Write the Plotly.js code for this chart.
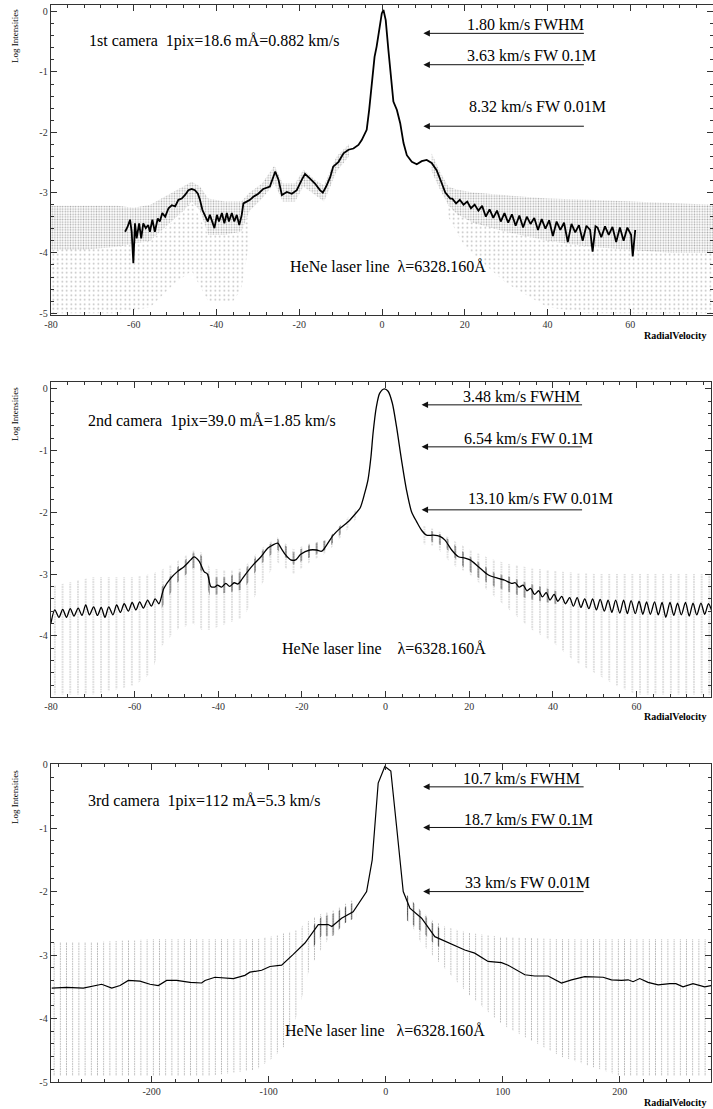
<!DOCTYPE html>
<html><head><meta charset="utf-8">
<script src="https://cdn.plot.ly/plotly-3.0.1.min.js"></script>
<style>html,body{margin:0;padding:0;background:#fff}#g{width:713px;height:1109px}</style>
</head><body><div id="g"></div>
<script>
// ---------- Panel 1 (1st camera) ----------
const p1LineX = [-62.1,-61.5,-60.9,-60.5,-60.1,-59.7,-59.3,-58.7,-58.2,-57.7,-57.1,-56.5,-56.1,-55.5,-54.9,-54.2,-53.7,-53.1,-52.4,-51.6,-50.8,-50.0,-49.2,-48.4,-47.6,-46.8,-46.0,-45.2,-44.5,-44.0,-43.4,-42.8,-42.1,-41.6,-41.0,-40.5,-39.9,-39.4,-38.7,-38.1,-37.5,-37.0,-36.3,-35.7,-35.1,-34.5,-33.9,-33.5,-32.7,-31.9,-31.1,-29.9,-28.7,-27.1,-25.8,-25.0,-24.2,-23.0,-21.8,-20.6,-19.4,-18.6,-17.4,-16.2,-15.0,-14.3,-13.5,-12.5,-11.8,-10.5,-9.3,-8.1,-6.9,-5.7,-4.9,-3.7,-3.1,-2.5,-1.8,-1.3,-0.7,-0.05,0.35,0.9,1.55,2.2,2.75,3.6,4.4,5.2,6.0,7.2,8.4,9.6,10.8,12.0,13.2,14.3,15.3,16.5,
17.0,17.9,18.8,19.7,20.6,21.5,22.4,23.3,24.2,25.1,26.0,26.9,27.8,28.7,29.6,30.5,31.4,32.3,33.2,34.1,35.0,35.9,36.8,37.7,38.6,39.5,40.4,41.3,42.2,43.1,44.0,44.9,45.8,46.7,47.6,48.5,49.4,50.3,50.9,51.6,52.1,53.0,53.9,54.8,55.7,56.6,57.5,58.4,59.3,60.2,60.6,61.2];
const p1LineY = [-3.65,-3.57,-3.45,-3.65,-4.17,-3.51,-3.76,-3.51,-3.76,-3.51,-3.59,-3.54,-3.65,-3.45,-3.65,-3.43,-3.48,-3.34,-3.40,-3.26,-3.21,-3.23,-3.12,-3.10,-3.04,-2.96,-2.94,-2.96,-3.02,-3.12,-3.29,-3.37,-3.48,-3.37,-3.51,-3.59,-3.37,-3.48,-3.34,-3.51,-3.34,-3.48,-3.34,-3.48,-3.37,-3.54,-3.37,-3.18,-3.15,-3.12,-3.07,-3.02,-2.94,-2.90,-2.65,-2.79,-3.04,-2.99,-3.02,-2.96,-2.79,-2.69,-2.77,-2.85,-2.96,-3.00,-2.90,-2.74,-2.57,-2.49,-2.35,-2.29,-2.27,-2.21,-2.13,-1.96,-1.63,-1.19,-0.75,-0.58,-0.30,-0.03,0.03,-0.14,-0.64,-1.13,-1.49,-1.63,-1.85,-2.18,-2.38,-2.49,-2.53,-2.48,-2.46,-2.51,-2.63,-2.82,-3.00,-3.10,
-3.10,-3.18,-3.12,-3.20,-3.15,-3.26,-3.20,-3.30,-3.22,-3.40,-3.28,-3.42,-3.30,-3.48,-3.34,-3.50,-3.36,-3.55,-3.38,-3.58,-3.40,-3.52,-3.42,-3.62,-3.44,-3.60,-3.46,-3.72,-3.48,-3.62,-3.50,-3.82,-3.52,-3.66,-3.54,-3.80,-3.55,-3.62,-3.98,-3.56,-3.58,-3.74,-3.56,-3.70,-3.57,-3.82,-3.58,-3.80,-3.58,-3.70,-4.06,-3.62];
// scatter cloud envelopes (left and right of the peak)
const p1CloudLX = [-80,-72,-64,-60,-56,-52,-48,-46,-44,-42,-38,-34,-32,-29,-26,-24,-21,-19,-16,-14,-11,-8];
const p1CloudLTop = [-3.22,-3.22,-3.22,-3.25,-3.2,-3.05,-2.9,-2.82,-2.9,-3.1,-3.15,-3.15,-3.0,-2.85,-2.55,-2.85,-2.85,-2.62,-2.8,-2.88,-2.4,-2.2];
const p1CloudLBot = [-3.95,-3.95,-3.9,-3.85,-3.8,-3.55,-3.3,-3.15,-3.3,-3.7,-3.7,-3.65,-3.3,-3.1,-2.85,-3.15,-3.15,-2.9,-3.05,-3.15,-2.65,-2.4];
const p1SparseLX = [-80,-64,-56,-50,-46,-42,-36,-34,-32];
const p1SparseLTop = [-3.95,-3.9,-3.8,-3.45,-3.15,-3.7,-3.7,-3.65,-3.3];
const p1SparseLBot = [-5.0,-5.0,-4.9,-4.5,-4.3,-4.8,-4.8,-4.6,-3.8];
const p1CloudRX = [12,14,16,18,22,30,40,50,60,70,80];
const p1CloudRTop = [-2.35,-2.65,-2.9,-2.95,-3.0,-3.05,-3.1,-3.12,-3.15,-3.18,-3.2];
const p1CloudRBot = [-2.65,-2.95,-3.2,-3.35,-3.5,-3.65,-3.8,-3.9,-3.95,-4.0,-4.0];
const p1SparseRX = [16,20,30,40,50,60,80];
const p1SparseRTop = [-3.2,-3.42,-3.65,-3.8,-3.9,-3.95,-4.0];
const p1SparseRBot = [-3.4,-3.9,-4.5,-4.9,-5.0,-5.0,-5.0];
const p1Notes = ['1.80 km/s FWHM','3.63 km/s FW 0.1M','8.32 km/s FW 0.01M'];
const p1Title = '1st camera\u00A0\u00A01pix=18.6 mÅ=0.882 km/s';
const p1Line = 'HeNe laser line\u00A0\u00A0λ=6328.160Å';

// ---------- Panel 2 (2nd camera) ----------
const p2LineX = [-80.0,-79.1,-78.1,-77.2,-76.3,-75.4,-74.5,-73.5,-72.6,-71.7,-70.8,-69.8,-68.9,-68.0,-67.1,-66.2,-65.2,-64.3,-63.4,-62.5,-61.5,-60.6,-59.7,-58.8,-57.9,-56.9,-56.0,-55.1,-54.2,-53.0,-51.4,-49.8,-48.2,-46.6,-45.8,-44.6,-43.4,-42.6,-41.8,-40.9,-40.2,-39.2,-38.2,-37.3,-36.2,-35.3,-34.2,-33.0,-31.4,-29.8,-28.2,-27.0,-25.8,-25.0,-23.9,-22.7,-21.5,-20.3,-18.1,-16.5,-15.3,-14.1,-12.5,-10.9,-8.9,-7.3,-6.1,-5.0,-4.2,-3.5,-3.0,-2.2,-1.4,-0.3,0.6,1.6,2.6,3.8,5.0,6.2,7.4,8.6,9.8,11.4,13.0,14.2,15.8,17.4,19.0,20.2,22.2,24.5,26.9,28.5,30.1,
31.0,31.9,32.9,33.8,34.7,35.6,36.6,37.5,38.4,39.3,40.3,41.2,42.1,43.0,44.0,44.9,45.8,46.7,47.6,48.6,49.5,50.4,51.3,52.3,53.2,54.1,55.0,56.0,56.9,57.8,58.7,59.7,60.6,61.5,62.4,63.3,64.3,65.2,66.1,67.0,68.0,68.9,69.8,70.7,71.7,72.6,73.5,74.4,75.4,76.3,77.2,78.1];
const p2LineY = [-3.79,-3.58,-3.70,-3.57,-3.70,-3.56,-3.68,-3.55,-3.67,-3.50,-3.66,-3.53,-3.67,-3.54,-3.70,-3.53,-3.66,-3.50,-3.62,-3.48,-3.60,-3.46,-3.58,-3.45,-3.55,-3.42,-3.52,-3.40,-3.48,-3.23,-3.07,-2.96,-2.88,-2.77,-2.72,-2.79,-2.96,-3.00,-3.20,-3.21,-3.18,-3.21,-3.15,-3.20,-3.14,-3.16,-3.07,-2.96,-2.83,-2.72,-2.58,-2.53,-2.50,-2.58,-2.69,-2.77,-2.77,-2.68,-2.61,-2.61,-2.63,-2.53,-2.37,-2.26,-2.15,-2.03,-1.93,-1.69,-1.47,-1.10,-0.72,-0.29,-0.07,0.0,-0.04,-0.23,-0.61,-1.15,-1.64,-1.99,-2.15,-2.29,-2.37,-2.37,-2.39,-2.45,-2.61,-2.72,-2.74,-2.77,-2.88,-3.01,-3.07,-3.10,-3.15,
-3.14,-3.21,-3.18,-3.27,-3.23,-3.33,-3.27,-3.37,-3.30,-3.42,-3.33,-3.44,-3.36,-3.48,-3.38,-3.52,-3.38,-3.54,-3.40,-3.56,-3.40,-3.58,-3.41,-3.60,-3.42,-3.62,-3.42,-3.63,-3.42,-3.64,-3.43,-3.64,-3.44,-3.65,-3.45,-3.65,-3.45,-3.66,-3.46,-3.70,-3.46,-3.67,-3.47,-3.66,-3.46,-3.68,-3.47,-3.66,-3.47,-3.65,-3.48,-3.62];
const p2StripeLX = [-80,-70,-60,-56,-54,-50,-46,-44,-42,-38,-34,-30,-26,-22,-18,-14,-10,-7];
const p2StripeLTop = [-3.2,-3.05,-3.05,-3.0,-2.95,-2.8,-2.62,-2.65,-2.9,-2.95,-2.9,-2.6,-2.4,-2.6,-2.5,-2.45,-2.15,-1.95];
const p2StripeLBot = [-4.95,-4.95,-4.8,-4.6,-4.2,-3.9,-3.8,-3.9,-3.9,-3.8,-3.7,-3.2,-2.8,-3.0,-2.8,-2.65,-2.35,-2.1];
const p2StripeRX = [8,12,16,20,25,30,35,40,45,50,55,60,70,78];
const p2StripeRTop = [-2.2,-2.28,-2.45,-2.6,-2.75,-2.85,-2.9,-2.95,-2.98,-3.0,-3.0,-3.0,-3.0,-3.0];
const p2StripeRBot = [-2.5,-2.55,-2.85,-3.0,-3.3,-3.6,-3.9,-4.1,-4.4,-4.6,-4.8,-4.95,-4.95,-4.95];
// denser parts of the stripes close to the line
const p2NearLX = [-54,-50,-46,-44,-42,-38,-34,-30,-26,-22,-18,-14,-10];
const p2NearLTop = [-3.25,-2.9,-2.65,-2.7,-3.05,-3.05,-2.95,-2.65,-2.42,-2.65,-2.52,-2.45,-2.15];
const p2NearLBot = [-3.6,-3.15,-2.9,-2.95,-3.35,-3.3,-3.25,-2.85,-2.6,-2.85,-2.72,-2.6,-2.3];
const p2NearRX = [10,14,18,22,26,30,34,38,42];
const p2NearRTop = [-2.28,-2.38,-2.62,-2.8,-2.98,-3.05,-3.15,-3.22,-3.3];
const p2NearRBot = [-2.45,-2.55,-2.85,-3.05,-3.2,-3.3,-3.4,-3.45,-3.5];
const p2Notes = ['3.48 km/s FWHM','6.54 km/s FW 0.1M','13.10 km/s FW 0.01M'];
const p2Title = '2nd camera\u00A0\u00A01pix=39.0 mÅ=1.85 km/s';
const p2Line = 'HeNe laser line\u00A0\u00A0\u00A0\u00A0λ=6328.160Å';

// ---------- Panel 3 (3rd camera) ----------
const p3LineX = [-285.4,-272.6,-258.4,-247,-242.7,-234.1,-227,-219.9,-210,-201.4,-194.3,-187.2,-178.6,-167.2,-157.3,-154.4,-145.9,-130.2,-120.3,-116,-106,-98.9,-88.9,-79,-69,-57.6,-49.1,-46,-37.7,-27.8,-22,-16.3,-11.5,-6.4,-0.7,4.4,9.3,15.0,20.7,30.7,42,50.6,67.6,76.1,87.5,99,104.6,118.9,127.4,138.8,150.2,158.8,170.1,185.8,192.9,201.5,207.2,211.4,217.1,224.2,232.8,242.8,248,254.1,262.6,272.6,278.3];
const p3LineY = [-3.52,-3.51,-3.52,-3.47,-3.46,-3.52,-3.48,-3.40,-3.41,-3.46,-3.48,-3.40,-3.40,-3.43,-3.44,-3.40,-3.35,-3.37,-3.32,-3.27,-3.24,-3.18,-3.16,-2.99,-2.81,-2.52,-2.52,-2.55,-2.42,-2.32,-2.16,-2.0,-1.50,-0.29,-0.03,-0.10,-0.97,-2.0,-2.26,-2.42,-2.71,-2.78,-2.92,-2.97,-3.10,-3.12,-3.16,-3.31,-3.33,-3.33,-3.44,-3.39,-3.34,-3.35,-3.39,-3.40,-3.39,-3.42,-3.37,-3.43,-3.47,-3.45,-3.45,-3.50,-3.45,-3.50,-3.48];
const p3StripeLX = [-286,-250,-200,-150,-110,-95,-85,-75,-65,-55,-45,-35,-25];
const p3StripeLTop = [-2.8,-2.8,-2.75,-2.75,-2.75,-2.7,-2.65,-2.6,-2.45,-2.35,-2.3,-2.2,-2.1];
const p3StripeLBot = [-4.9,-4.9,-4.9,-4.9,-4.8,-4.6,-4.4,-3.9,-3.2,-2.9,-2.65,-2.5,-2.4];
const p3StripeRX = [15,20,30,40,50,70,100,150,200,278];
const p3StripeRTop = [-2.0,-2.1,-2.3,-2.45,-2.55,-2.65,-2.72,-2.75,-2.75,-2.75];
const p3StripeRBot = [-2.2,-2.45,-2.8,-3.0,-3.2,-3.6,-4.1,-4.6,-4.9,-4.9];
const p3NearLX = [-65,-55,-45,-35,-25];
const p3NearLTop = [-2.6,-2.4,-2.35,-2.25,-2.15];
const p3NearLBot = [-2.95,-2.7,-2.7,-2.5,-2.4];
const p3NearRX = [18,25,32,40,48];
const p3NearRTop = [-2.05,-2.2,-2.35,-2.5,-2.6];
const p3NearRBot = [-2.45,-2.55,-2.65,-2.8,-2.9];
const p3Notes = ['10.7 km/s FWHM','18.7 km/s FW 0.1M','33 km/s FW 0.01M'];
const p3Title = '3rd camera\u00A0\u00A01pix=112 mÅ=5.3 km/s';
const p3Line = 'HeNe laser line\u00A0\u00A0\u00A0λ=6328.160Å';

// tick labels
const xTicks12 = [-80,-60,-40,-20,0,20,40,60,80];
const xTicks12Text = ['-80','-60','-40','-20','0','20','40','60','80'];
const xTicks3 = [-200,-100,0,100,200];
const xTicks3Text = ['-200','-100','0','100','200'];
const yTicks = [0,-1,-2,-3,-4,-5];
const yTicksText = ['0','-1','-2','-3','-4','-5'];

// ---------- build ----------
function band(xs, top, bot, xa, ya, pat) {
  return {
    type:'scatter', mode:'lines', xaxis:xa, yaxis:ya, hoverinfo:'skip',
    x: xs.concat(xs.slice().reverse()),
    y: top.concat(bot.slice().reverse()),
    fill:'toself', fillcolor:'rgba(0,0,0,0)', line:{width:0, color:'rgba(0,0,0,0)'},
    fillpattern: pat
  };
}
const dotDense = {shape:'.', size:2.6, solidity:0.3, fgcolor:'#000', fgopacity:0.32, bgcolor:'rgba(0,0,0,0)'};
const dotSparse = {shape:'.', size:4.5, solidity:0.1, fgcolor:'#000', fgopacity:0.28, bgcolor:'rgba(0,0,0,0)'};
const stripe2 = {shape:'|', size:7.7, solidity:0.12, fgcolor:'#000', fgopacity:0.32, bgcolor:'rgba(0,0,0,0)'};
const stripe3 = {shape:'|', size:6.2, solidity:0.14, fgcolor:'#000', fgopacity:0.35, bgcolor:'rgba(0,0,0,0)'};
const near2 = {shape:'|', size:7.7, solidity:0.2, fgcolor:'#000', fgopacity:0.45, bgcolor:'rgba(0,0,0,0)'};
const near3 = {shape:'|', size:6.2, solidity:0.2, fgcolor:'#000', fgopacity:0.55, bgcolor:'rgba(0,0,0,0)'};
const breaker = {shape:'-', size:2.5, solidity:0.45, fgcolor:'#fff', fgopacity:1, bgcolor:'rgba(0,0,0,0)'};

const traces = [
  band(p1CloudLX, p1CloudLTop, p1CloudLBot, 'x', 'y', dotDense),
  band(p1SparseLX, p1SparseLTop, p1SparseLBot, 'x', 'y', dotSparse),
  band(p1CloudRX, p1CloudRTop, p1CloudRBot, 'x', 'y', dotDense),
  band(p1SparseRX, p1SparseRTop, p1SparseRBot, 'x', 'y', dotSparse),
  {type:'scatter', mode:'lines', x:p1LineX, y:p1LineY, xaxis:'x', yaxis:'y', line:{color:'#000', width:1.8}},
  band(p2StripeLX, p2StripeLTop, p2StripeLBot, 'x2', 'y2', stripe2),
  band(p2StripeRX, p2StripeRTop, p2StripeRBot, 'x2', 'y2', stripe2),
  band(p2StripeLX, p2StripeLTop, p2StripeLBot, 'x2', 'y2', breaker),
  band(p2StripeRX, p2StripeRTop, p2StripeRBot, 'x2', 'y2', breaker),
  band(p2NearLX, p2NearLTop, p2NearLBot, 'x2', 'y2', near2),
  band(p2NearRX, p2NearRTop, p2NearRBot, 'x2', 'y2', near2),
  {type:'scatter', mode:'lines', x:p2LineX, y:p2LineY, xaxis:'x2', yaxis:'y2', line:{color:'#000', width:1.3, shape:'spline', smoothing:0.8}},
  band(p3StripeLX, p3StripeLTop, p3StripeLBot, 'x3', 'y3', stripe3),
  band(p3StripeRX, p3StripeRTop, p3StripeRBot, 'x3', 'y3', stripe3),
  band(p3StripeLX, p3StripeLTop, p3StripeLBot, 'x3', 'y3', breaker),
  band(p3StripeRX, p3StripeRTop, p3StripeRBot, 'x3', 'y3', breaker),
  band(p3NearLX, p3NearLTop, p3NearLBot, 'x3', 'y3', near3),
  band(p3NearRX, p3NearRTop, p3NearRBot, 'x3', 'y3', near3),
  {type:'scatter', mode:'lines', x:p3LineX, y:p3LineY, xaxis:'x3', yaxis:'y3', line:{color:'#000', width:1.2}}
];

const FONT = '"Liberation Serif", serif';
function xax(domain, range, tv, tt, minorD, anchor) {
  return {domain:domain, range:range, anchor:anchor, tickmode:'array', tickvals:tv, ticktext:tt,
    ticks:'inside', ticklen:6, tickwidth:1, tickcolor:'#333', mirror:'allticks', showline:true,
    linecolor:'#333', linewidth:1.3, showgrid:false, zeroline:false,
    tickfont:{family:FONT, size:10, color:'#333'},
    minor:{tickmode:'linear', tick0:0, dtick:minorD, ticks:'inside', ticklen:3, tickcolor:'#333', tickwidth:1, showgrid:false}};
}
function yax(domain, range, anchor) {
  return {domain:domain, range:range, anchor:anchor, tickmode:'array', tickvals:yTicks, ticktext:yTicksText,
    ticks:'inside', ticklen:6, tickwidth:1, tickcolor:'#333', mirror:'allticks', showline:true,
    linecolor:'#333', linewidth:1.3, showgrid:false, zeroline:false,
    tickfont:{family:FONT, size:10, color:'#333'},
    minor:{tickmode:'linear', tick0:0, dtick:0.2, ticks:'inside', ticklen:3, tickcolor:'#333', tickwidth:1, showgrid:false}};
}

const ann = [];
function txt(xr, yr, x, y, t, size, anchor) {
  ann.push({xref:xr, yref:yr, x:x, y:y, text:t, showarrow:false, xanchor:anchor||'left', yanchor:'middle',
    font:{family:FONT, size:size, color:'#000'}});
}
function arrow(xr, yr, x, y) {
  ann.push({xref:xr, yref:yr, x:x, y:y, ax:162, ay:0, text:'', showarrow:true,
    arrowhead:2, arrowsize:1.3, arrowwidth:1, arrowcolor:'#111'});
}
const FS = 16;
// panel 1
txt('x','y',-71.4,-0.49,p1Title,FS);
txt('x','y',-22.6,-4.23,p1Line,FS);
txt('x','y',20.1,-0.22,p1Notes[0],FS); arrow('x','y',10.0,-0.36);
txt('x','y',20.1,-0.72,p1Notes[1],FS); arrow('x','y',10.0,-0.88);
txt('x','y',20.6,-1.58,p1Notes[2],FS); arrow('x','y',10.0,-1.90);
// panel 2
txt('x2','y2',-71.7,-0.52,p2Title,FS);
txt('x2','y2',-25.3,-4.20,p2Line,FS);
txt('x2','y2',18.0,-0.13,p2Notes[0],FS); arrow('x2','y2',8.6,-0.26);
txt('x2','y2',18.3,-0.81,p2Notes[1],FS); arrow('x2','y2',8.6,-0.94);
txt('x2','y2',19.2,-1.78,p2Notes[2],FS); arrow('x2','y2',8.6,-1.96);
// panel 3
txt('x3','y3',-256,-0.58,p3Title,FS);
txt('x3','y3',-87.6,-4.19,p3Line,FS);
txt('x3','y3',64.2,-0.22,p3Notes[0],FS); arrow('x3','y3',32.0,-0.35);
txt('x3','y3',65.4,-0.87,p3Notes[1],FS); arrow('x3','y3',32.0,-0.99);
txt('x3','y3',66.2,-1.86,p3Notes[2],FS); arrow('x3','y3',32.0,-2.0);
// axis titles
const H = 1109, W = 713;
[36, 414, 797].forEach(function(py){
  ann.push({xref:'paper', yref:'paper', x:15/W, y:1-py/H, text:'Log Intensities', textangle:-90, showarrow:false,
    xanchor:'center', yanchor:'middle', font:{family:FONT, size:9, color:'#000'}});
});
[335, 716, 1102].forEach(function(py){
  ann.push({xref:'paper', yref:'paper', x:708/W, y:1-py/H, text:'<b>RadialVelocity</b>', showarrow:false,
    xanchor:'right', yanchor:'middle', font:{family:FONT, size:10, color:'#000'}});
});

const layout = {
  width:W, height:H, margin:{l:0,r:0,t:0,b:0}, paper_bgcolor:'#fff', plot_bgcolor:'#fff',
  showlegend:false, font:{family:FONT},
  xaxis: xax([51/W, 1], [-80, 80], xTicks12, xTicks12Text, 4, 'y'),
  yaxis: yax([1-315/H, 1-5/H], [-5.03, 0.11], 'x'),
  xaxis2: xax([51/W, 711/W], [-80, 77.8], xTicks12, xTicks12Text, 4, 'y2'),
  yaxis2: yax([1-697/H, 1-382/H], [-4.99, 0.11], 'x2'),
  xaxis3: xax([51/W, 711/W], [-286, 278], xTicks3, xTicks3Text, 20, 'y3'),
  yaxis3: yax([1-1082/H, 1-764/H], [-5.0, 0.01], 'x3'),
  annotations: ann
};
Plotly.newPlot('g', traces, layout, {staticPlot:true, displayModeBar:false});
</script></body></html>
